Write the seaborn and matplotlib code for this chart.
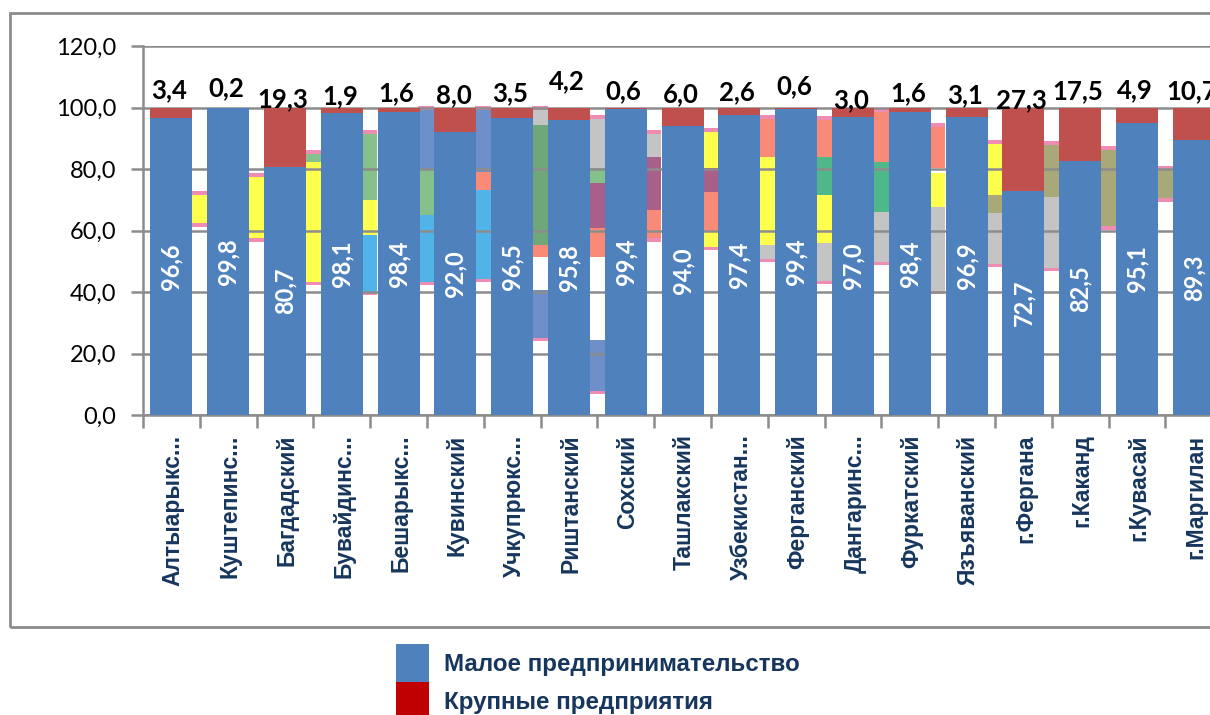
import matplotlib
matplotlib.use("Agg")
import matplotlib.pyplot as plt
from matplotlib.patches import Patch, Rectangle
from matplotlib.transforms import ScaledTranslation
import pandas as pd
import seaborn as sns

# Структура предприятий по районам, %
rayony = ["Алтыарыкс...", "Куштепинс...", "Багдадский", "Бувайдинс...", "Бешарыкс...",
          "Кувинский", "Учкупрюкс...", "Риштанский", "Сохский", "Ташлакский",
          "Узбекистан...", "Ферганский", "Дангаринс...", "Фуркатский", "Язъяванский",
          "г.Фергана", "г.Каканд", "г.Кувасай", "г.Маргилан"]
maloe = [96.6, 99.8, 80.7, 98.1, 98.4, 92.0, 96.5, 95.8, 99.4, 94.0,
         97.4, 99.4, 97.0, 98.4, 96.9, 72.7, 82.5, 95.1, 89.3]
krupnye = [3.4, 0.2, 19.3, 1.9, 1.6, 8.0, 3.5, 4.2, 0.6, 6.0,
           2.6, 0.6, 3.0, 1.6, 3.1, 27.3, 17.5, 4.9, 10.7]
yticks = [0, 20, 40, 60, 80, 100, 120]

W, H = 1210, 715
SINIY = "#4F81BD"
KRASNY = "#C0504D"
SERY = "#8C8C8C"
NAVY = "#17365D"

# подписи крупных стоят вручную, как в исходнике (пиксели по y)
label_y_px = [90, 88, 99, 96, 93, 95, 93, 81, 91, 94, 92, 86, 100, 93, 95, 100, 91, 90, 91]

# карта на фоне видна только в просветах между столбцами: цвет, верх, низ (пиксели)
Y, G, B, V, O, S, P, L, A = ("#FFFF4D", "#86C08A", "#50B4E8", "#6F8FCB", "#6FA878",
                             "#C4C4C4", "#A8608A", "#FA8A78", "#A8A878")
T = "#4FB88A"
karta = [
    [(Y, 193, 225)],
    [(Y, 175, 240)],
    [(G, 152, 162), (Y, 162, 283)],
    [(G, 132, 200), (Y, 200, 235), (B, 235, 293)],
    [(V, 108, 170), (G, 170, 215), (B, 215, 283)],
    [(V, 108, 172), (L, 172, 190), (B, 190, 280)],
    [(S, 108, 125), (O, 125, 245), (L, 245, 257), (V, 290, 340)],
    [(S, 117, 168), (G, 168, 183), (P, 183, 228), (L, 228, 257), (V, 340, 393)],
    [(S, 132, 157), (P, 157, 210), (L, 210, 240)],
    [(Y, 130, 168), (P, 168, 192), (L, 192, 232), (Y, 232, 248)],
    [(L, 117, 157), (Y, 157, 245), (S, 245, 260)],
    [(L, 118, 157), (T, 157, 195), (Y, 195, 243), (S, 243, 282)],
    [(L, 110, 162), (T, 162, 212), (S, 212, 263)],
    [(L, 125, 168), (Y, 173, 207), (S, 207, 292)],
    [(Y, 142, 195), (A, 195, 213), (S, 213, 265)],
    [(A, 143, 197), (S, 197, 270)],
    [(A, 148, 228)],
    [(A, 168, 200)],
]

df = pd.DataFrame({"rayon": rayony, "maloe": maloe, "krupnye": krupnye})
df["vsego"] = df["maloe"] + df["krupnye"]

sns.set_theme(style="white")
plt.rcParams["font.family"] = ["Lato", "DejaVu Sans"]

fig = plt.figure(figsize=(W / 100, H / 100), dpi=100)

# рамка области диаграммы
fig.add_artist(Rectangle((10 / W, 1 - 627 / H), 1300 / W, 614 / H, fill=False,
                         ec=SERY, lw=2, transform=fig.transFigure, zorder=-2))

left, right = 143, 143 + 19 * 56.8
top, bottom = 46, 415
ax = fig.add_axes([left / W, 1 - bottom / H, (right - left) / W, (bottom - top) / H])
ax.patch.set_alpha(0)


def strip(x0, y0, y1, color):
    fig.add_artist(Rectangle((x0 / W, 1 - y1 / H), 16 / W, (y1 - y0) / H, fc=color, ec="none",
                             transform=fig.transFigure, zorder=-1))


for i, stack in enumerate(karta):
    x0 = 191 + 56.8 * i
    for color, y0, y1 in stack:
        strip(x0, y0, y1, color)
    # розовая граница района сверху и снизу
    strip(x0, stack[0][1] - 1.5, stack[0][1] + 1.5, "#F08CB4")
    strip(x0, stack[-1][2] - 1.5, stack[-1][2] + 1.5, "#F08CB4")

# столбцы: сначала сумма (красный), поверх малое (синий)
sns.barplot(data=df, x="rayon", y="vsego", color=KRASNY, saturation=1, width=0.74, ax=ax,
            zorder=3, linewidth=0)
sns.barplot(data=df, x="rayon", y="maloe", color=SINIY, saturation=1, width=0.74, ax=ax,
            zorder=3, linewidth=0)

blue = ax.containers[1]
ax.bar_label(blue, labels=[f"{v:.1f}".replace(".", ",") for v in maloe], label_type="center",
             rotation=90, color="white", fontsize=17, fontweight="bold", zorder=5)

for i, v in enumerate(krupnye):
    ax.text(i, 0, f"{v:.1f}".replace(".", ","), ha="center", va="center",
            fontsize=18.5, fontweight="bold", color="black", zorder=6,
            transform=ax.get_xaxis_transform() + ScaledTranslation(
                -2 / 100, (bottom - label_y_px[i]) / 100, fig.dpi_scale_trans))

ax.set_xlim(-0.5, 18.5)
ax.set_ylim(0, 120)
ax.set_yticks(yticks)
ax.set_yticklabels([f"{v:.1f}".replace(".", ",") for v in yticks], fontsize=17, color="black")
ax.set_xlabel("")
ax.set_ylabel("")
ax.set_xticks(range(len(rayony)))
ax.set_xticklabels(rayony, rotation=90, fontsize=16.5, fontweight="bold", color=NAVY,
                   family="Liberation Sans")
ax.grid(axis="y", color=SERY, lw=1.8, zorder=1)
ax.set_axisbelow(True)
ax.tick_params(axis="y", length=9, width=1.8, color=SERY, left=True, pad=10)
ax.tick_params(axis="x", length=0, pad=14)
shift = ScaledTranslation(2 / 100, 0, fig.dpi_scale_trans)
for lab in ax.get_xticklabels():
    lab.set_transform(lab.get_transform() + shift)
# короткие риски между столбцами внизу
ax.set_xticks([i - 0.5 for i in range(20)], minor=True)
ax.tick_params(axis="x", which="minor", length=9, width=1.8, color=SERY, bottom=True)
for name, sp in ax.spines.items():
    sp.set_visible(name in ("left", "bottom"))
    sp.set_color(SERY)
    sp.set_linewidth(1.8)

handles = [Patch(fc=SINIY, ec="none", label="Малое предпринимательство"),
           Patch(fc="#C00000", ec="none", label="Крупные предприятия")]
fig.legend(handles=handles, loc="upper left", bbox_to_anchor=(396 / W, 1 - 644 / H),
           frameon=False, borderpad=0, borderaxespad=0, labelspacing=0, handlelength=1.38,
           handleheight=2.05, handletextpad=0.6,
           prop={"family": "Liberation Sans", "weight": "bold", "size": 17.4}, labelcolor=NAVY)

fig.savefig("out.png", dpi=100)
